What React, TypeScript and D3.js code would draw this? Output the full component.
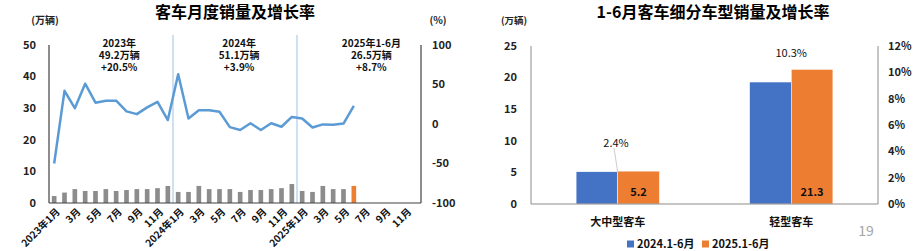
import React from "react";
import * as d3 from "d3";

// ---- Left chart data ----
const monthLabels = [
  "2023年1月","2月","3月","4月","5月","6月","7月","8月","9月","10月","11月","12月",
  "2024年1月","2月","3月","4月","5月","6月","7月","8月","9月","10月","11月","12月",
  "2025年1月","2月","3月","4月","5月","6月","7月","8月","9月","10月","11月","12月",
];
const monthlySales = [
  2.2, 3.3, 4.4, 3.8, 3.8, 4.4, 3.8, 4.1, 4.4, 4.4, 4.7, 5.4,
  3.5, 3.5, 5.4, 4.4, 4.4, 4.4, 3.5, 4.1, 4.1, 4.4, 4.7, 6.0,
  3.8, 3.5, 5.4, 4.4, 4.4, 5.4,
];
const monthlyGrowth = [
  -50, 42, 20, 51, 27, 29.5, 29.5, 16, 12.5, 21, 28, 5,
  63, 7, 17.5, 17.5, 15.5, -4, -7.5, 1, -7.5, 1, -3.5, 9,
  7, -4.5, -0.5, -1, 0.5, 23,
];
const leftTicks = [0, 10, 20, 30, 40, 50];
const rightTicks = [-100, -50, 0, 50, 100];
const yearNotes = [
  ["2023年", "49.2万辆", "+20.5%"],
  ["2024年", "51.1万辆", "+3.9%"],
  ["2025年1-6月", "26.5万辆", "+8.7%"],
];

// ---- Right chart data ----
const segCats = ["大中型客车", "轻型客车"];
const segSeries = ["2024.1-6月", "2025.1-6月"];
const seg2024 = [5.1, 19.3];
const seg2025 = [5.2, 21.3];
const segGrowth = [2.4, 10.3];
const segLeftTicks = [0, 5, 10, 15, 20, 25];
const segRightTicks = [0, 2, 4, 6, 8, 10, 12];

const FONT = "'Noto Sans CJK SC', 'Noto Sans', sans-serif";
const BLUE = "#4472C4";
const ORANGE = "#ED7D31";

export default function App() {
  // Left chart scales
  const x = d3.scaleBand<number>().domain(d3.range(36)).range([49, 421]).paddingInner(0.55).paddingOuter(0.275);
  const yL = d3.scaleLinear().domain([0, 50]).range([203, 45]);
  const yR = d3.scaleLinear().domain([-100, 100]).range([203, 45]);
  const cx = (i: number) => (x(i) as number) + x.bandwidth() / 2;
  const line = d3.line<number>().x((_, i) => cx(i)).y((d) => yR(d));
  const step = x.step();
  const notePos = [49 + step * 6.8, 49 + step * 18.4, 49 + step * 31.2];

  // Right chart scales
  const x2 = d3.scaleBand<string>().domain(segCats).range([531, 878]);
  const gw = x2.bandwidth() * 0.48;
  const xs = d3.scaleBand<string>().domain(segSeries).range([0, gw]);
  const y2 = d3.scaleLinear().domain([0, 25]).range([204, 46]);
  const y2R = d3.scaleLinear().domain([0, 12]).range([204, 46]);
  const segVals = [seg2024, seg2025];
  const segColors = [BLUE, ORANGE];
  const c2 = (c: string) => (x2(c) as number) + x2.bandwidth() / 2;

  return (
    <svg width={919} height={251} style={{ position: "absolute", left: 0, top: 0, fontFamily: FONT }}>
      <rect width={919} height={251} fill="#fff" />
      {/* ---------- Left chart ---------- */}
      <text x={235} y={18} textAnchor="middle" fontSize={16} fontWeight={700} fill="#000">客车月度销量及增长率</text>
      <text x={45} y={24} textAnchor="middle" fontSize={10} fontWeight={700} fill="#222">(万辆)</text>
      <text x={438} y={24} textAnchor="middle" fontSize={10} fontWeight={700} fill="#222">(%)</text>

      {leftTicks.map((t) => (
        <text key={"l" + t} x={36} y={yL(t)} dy="0.35em" textAnchor="end" fontSize={11} fontWeight={700} fill="#222">{t}</text>
      ))}
      {rightTicks.map((t) => (
        <text key={"r" + t} x={432} y={yR(t)} dy="0.35em" textAnchor="start" fontSize={11} fontWeight={700} fill="#222">{t}</text>
      ))}

      {[12, 24].map((i) => (
        <line key={"sep" + i} x1={49 + step * i} x2={49 + step * i} y1={35} y2={203} stroke="#9DC3E6" strokeWidth={1} />
      ))}

      {monthlySales.map((v, i) => (
        <rect key={"b" + i} x={x(i)} y={yL(v)} width={x.bandwidth()} height={203 - yL(v)} fill={i === 29 ? ORANGE : "#8C8C8C"} />
      ))}

      <path d={line(monthlyGrowth) || ""} fill="none" stroke="#5B9BD5" strokeWidth={2.5} strokeLinejoin="round" />

      <line x1={49} x2={49} y1={45} y2={203} stroke="#404040" strokeWidth={1.2} />
      <line x1={421} x2={421} y1={45} y2={203} stroke="#404040" strokeWidth={1.2} />
      <line x1={49} x2={421} y1={203} y2={203} stroke="#404040" strokeWidth={1.2} />

      {yearNotes.map((lines, k) =>
        lines.map((s, j) => (
          <text key={"n" + k + j} x={notePos[k]} y={47 + j * 11.8} textAnchor="middle" fontSize={10} fontWeight={700} fill="#111">{s}</text>
        ))
      )}

      {monthLabels.map((s, i) =>
        i % 2 === 0 ? (
          <text key={"m" + i} transform={`translate(${cx(i) + 4},${210}) rotate(-45)`} textAnchor="end" dy="0.35em" fontSize={10} fontWeight={700} fill="#111">{s}</text>
        ) : null
      )}

      {/* ---------- Right chart ---------- */}
      <text x={713} y={18} textAnchor="middle" fontSize={16} fontWeight={700} fill="#000">1-6月客车细分车型销量及增长率</text>
      <text x={514} y={24} textAnchor="middle" fontSize={9.5} fontWeight={700} fill="#222">(万辆)</text>

      {segLeftTicks.map((t) => (
        <text key={"sl" + t} x={517} y={y2(t)} dy="0.35em" textAnchor="end" fontSize={11} fontWeight={700} fill="#222">{t}</text>
      ))}
      {segRightTicks.map((t) => (
        <text key={"sr" + t} x={888} y={y2R(t)} dy="0.35em" textAnchor="start" fontSize={11} fontWeight={700} fill="#222">{t}%</text>
      ))}

      {segCats.map((c, ci) =>
        segSeries.map((s, si) => {
          const v = segVals[si][ci];
          const bx = c2(c) - gw / 2 + (xs(s) as number);
          return (
            <rect key={c + s} x={bx} y={y2(v)} width={xs.bandwidth()} height={204 - y2(v)} fill={segColors[si]} stroke="#fff" strokeWidth={0.5} />
          );
        })
      )}
      {segCats.map((c, ci) => (
        <text key={"v" + c} x={c2(c) + xs.bandwidth() / 2} y={192} dy="0.35em" textAnchor="middle" fontSize={11} fontWeight={700} fill="#111">{seg2025[ci]}</text>
      ))}

      <line x1={531} x2={531} y1={46} y2={204} stroke="#8C8C8C" strokeWidth={1} />
      <line x1={878} x2={878} y1={46} y2={204} stroke="#8C8C8C" strokeWidth={1} />
      <line x1={531} x2={878} y1={204} y2={204} stroke="#8C8C8C" strokeWidth={1.2} />

      {/* growth labels */}
      <line x1={614} y1={148} x2={c2(segCats[0])} y2={y2R(segGrowth[0])} stroke="#BFBFBF" strokeWidth={0.8} />
      <text x={616} y={143} dy="0.35em" textAnchor="middle" fontSize={11} fill="#111">{segGrowth[0]}%</text>
      <text x={c2(segCats[1])} y={y2R(segGrowth[1]) - 15} dy="0.35em" textAnchor="middle" fontSize={11} fill="#111">{segGrowth[1]}%</text>

      {segCats.map((c) => (
        <text key={"c" + c} x={c2(c)} y={222} dy="0.35em" textAnchor="middle" fontSize={11} fontWeight={700} fill="#111">{c}</text>
      ))}

      {/* legend */}
      {segSeries.map((s, i) => (
        <g key={"lg" + s} transform={`translate(${627 + i * 75},244)`}>
          <rect x={0} y={-3.5} width={7} height={7} fill={segColors[i]} />
          <text x={10} y={0} dy="0.35em" fontSize={11} fontWeight={700} fill="#111">{s}</text>
        </g>
      ))}

      <text x={866} y={231} dy="0.35em" textAnchor="middle" fontSize={14} fill="#A6A6A6">19</text>
    </svg>
  );
}
